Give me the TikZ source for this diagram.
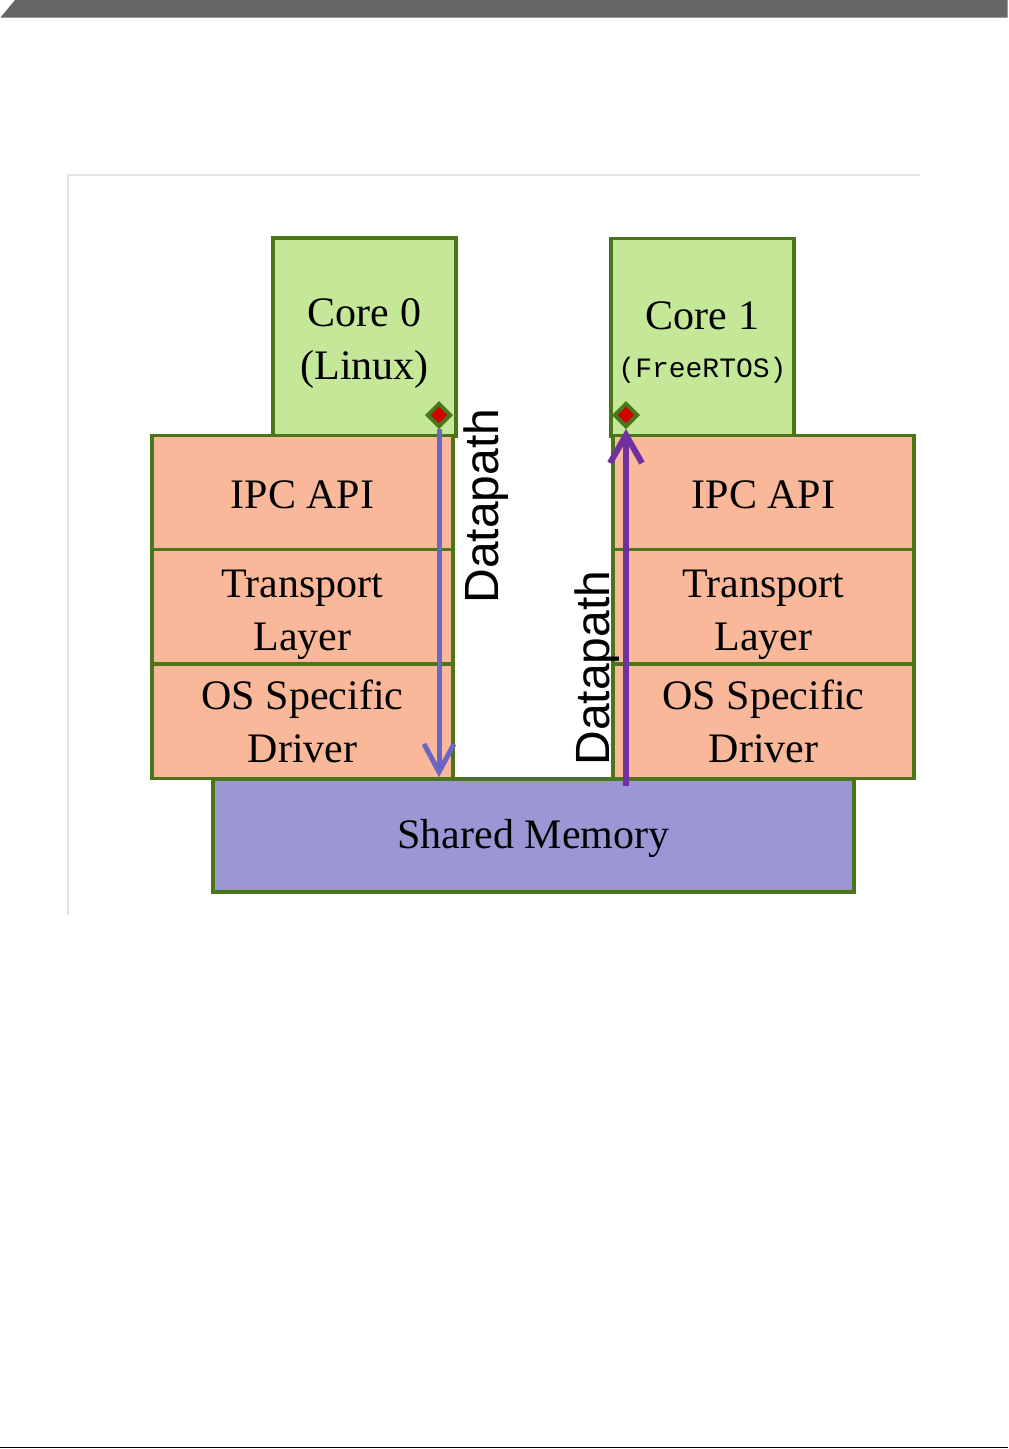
\documentclass[tikz,border=0pt]{standalone}
\usepackage{fontspec}
\setmainfont{Liberation Serif}
\setsansfont{Liberation Sans}
\setmonofont{Liberation Mono}
\usepackage{tikz}
\usetikzlibrary{arrows.meta,positioning,calc,shapes.geometric}

\definecolor{edgegreen}{HTML}{4A7619}
\definecolor{corefill}{HTML}{C4E897}
\definecolor{layerfill}{HTML}{F9B89A}
\definecolor{memfill}{HTML}{9B97D4}
\definecolor{pathblue}{HTML}{6B66C4}
\definecolor{pathpurple}{HTML}{7030A0}
\definecolor{dotred}{HTML}{D00000}
\definecolor{framegray}{HTML}{E2E2E2}

% strut that pushes a node's text down a little
\newcommand{\lowerby}[1]{\rule{0pt}{#1}}

\tikzset{
  box/.style={draw=edgegreen, line width=3.5pt, inner sep=0pt, align=center,
    font=\fontsize{42}{53}\selectfont},
  corebox/.style={box, fill=corefill, minimum width=183pt, minimum height=198pt},
  layer/.style={box, fill=layerfill, minimum width=301pt, minimum height=114pt},
  membox/.style={box, fill=memfill, minimum width=641pt, minimum height=113pt},
  port/.style={diamond, draw=edgegreen, fill=dotred, line width=4pt,
    inner sep=0pt, minimum size=24pt},
  pathlabel/.style={rotate=90, font=\sffamily\fontsize{48}{56}\selectfont, inner sep=0pt},
}

\begin{document}
\begin{tikzpicture}[x=1pt, y=-1pt]
  \useasboundingbox (0,0) rectangle (1009,1449);

  % Page decoration
  \fill[black!60] (0.5,17.5) -- (15,0) -- (1007.5,0) -- (1007.5,17.5) -- cycle;
  \draw[line width=1.5pt] (0,1447.5) -- (1007.5,1447.5);
  \draw[framegray, line width=1.5pt] (920,175) -- (68,175) -- (68,915);

  % Cores
  \node[corebox] (core0) at (364.5,337) {\lowerby{40pt}Core 0\\(Linux)};
  \node[corebox] (core1) at (702.5,337.5)
    {\lowerby{38pt}Core 1\\[-5pt]{\ttfamily\fontsize{28}{34}\selectfont (FreeRTOS)}};

  % Layer stacks, left and right
  \foreach \nm/\y/\h/\txt in {ipc/492.5/32pt/IPC API, tr/606.5/45pt/{Transport\\Layer},
                               os/721.5/0pt/{OS Specific\\Driver}}{
    \node[layer] (\nm L) at (302.5,\y) {\lowerby{\h}\txt};
    \node[layer] (\nm R) at (763.5,\y) {\lowerby{\h}\txt};
  }

  % Shared memory
  \node[membox] (shm) at (533.5,835.5) {\lowerby{35pt}Shared Memory};

  % Datapaths
  \node[port] (dia0) at (439,415) {};
  \node[port] (dia1) at (626,415) {};
  \draw[pathblue, line width=5pt, -{Straight Barb[length=28pt, width=30pt]}]
    (dia0.south) -- (dia0.south |- shm.north);
  \draw[pathpurple, line width=6pt, -{Straight Barb[length=28pt, width=32pt]}]
    ($(dia1 |- shm.north)+(0,9)$) -- (dia1.south);

  % Labels
  \node[pathlabel] (lblL) at (486,506) {Datapath};
  \node[pathlabel] (lblR) at (597,668) {Datapath};
\end{tikzpicture}
\end{document}
